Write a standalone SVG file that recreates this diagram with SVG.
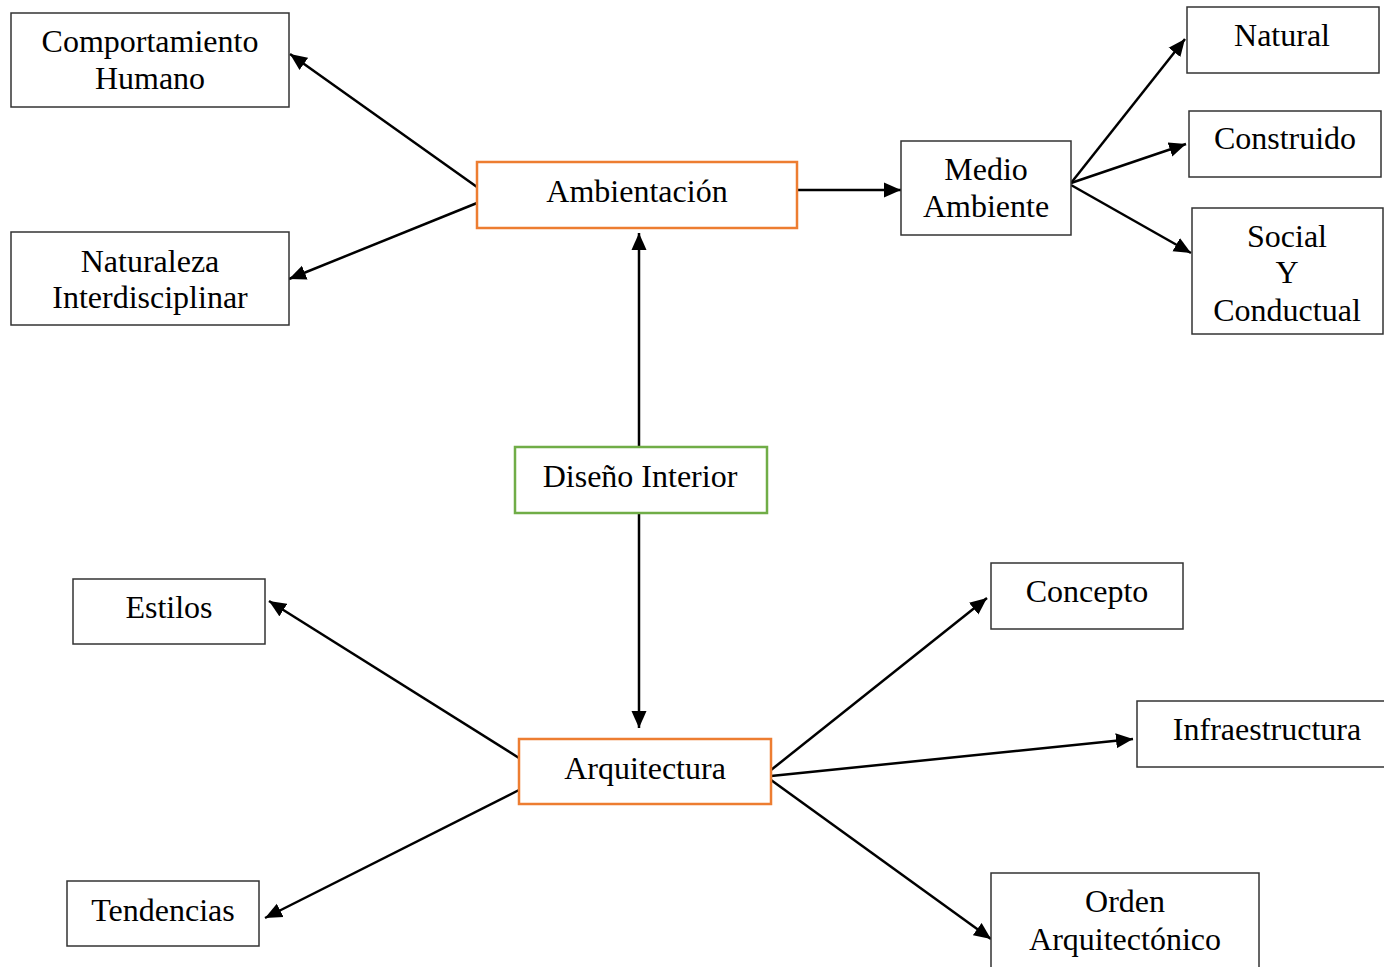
<svg xmlns="http://www.w3.org/2000/svg" width="1384" height="967" viewBox="0 0 1384 967">
<defs>
<marker id="ah" markerUnits="userSpaceOnUse" markerWidth="18" markerHeight="16" refX="17" refY="8" orient="auto">
<path d="M0,0.5 L17,8 L0,15.5 Z" fill="#000"/>
</marker>
<style>
.box{fill:#fff;stroke:#333;stroke-width:1.5}
.orange{fill:#fff;stroke:#ED7D31;stroke-width:2.5}
.green{fill:#fff;stroke:#70AD47;stroke-width:2.5}
text{font-family:"Liberation Serif","Times New Roman",serif;font-size:32px;fill:#000;text-anchor:middle}
.conn line{stroke:#000;stroke-width:2.5;marker-end:url(#ah)}
</style>
</defs>
<rect width="1384" height="967" fill="#fff"/>
<g class="conn" id="connectors">
<line x1="477" y1="187" x2="290" y2="54"/>
<line x1="477" y1="203" x2="289" y2="279"/>
<line x1="797" y1="190" x2="901" y2="190"/>
<line x1="639" y1="447" x2="639" y2="233"/>
<line x1="1071" y1="183" x2="1185" y2="39"/>
<line x1="1071" y1="183" x2="1186" y2="144"/>
<line x1="1071" y1="185" x2="1191" y2="253"/>
<line x1="639" y1="513" x2="639" y2="728"/>
<line x1="519" y1="758" x2="269" y2="601"/>
<line x1="519" y1="790" x2="265" y2="918"/>
<line x1="771" y1="770" x2="987" y2="598"/>
<line x1="771" y1="776" x2="1133" y2="739"/>
<line x1="771" y1="780" x2="991" y2="939"/>
</g>
<g id="comportamiento"><rect class="box" x="11" y="13" width="278" height="94"/><text x="150" y="52">Comportamiento</text><text x="150" y="89">Humano</text></g>
<g id="naturaleza"><rect class="box" x="11" y="232" width="278" height="93"/><text x="150" y="272">Naturaleza</text><text x="150" y="308">Interdisciplinar</text></g>
<g id="ambientacion"><rect class="orange" x="477" y="162" width="320" height="66"/><text x="637" y="202">Ambientación</text></g>
<g id="medio"><rect class="box" x="901" y="141" width="170" height="94"/><text x="986" y="180">Medio</text><text x="986" y="217">Ambiente</text></g>
<g id="natural"><rect class="box" x="1187" y="7" width="192" height="66"/><text x="1282" y="46">Natural</text></g>
<g id="construido"><rect class="box" x="1189" y="111" width="192" height="66"/><text x="1285" y="149">Construido</text></g>
<g id="social"><rect class="box" x="1192" y="208" width="191" height="126"/><text x="1287" y="247">Social</text><text x="1287" y="283">Y</text><text x="1287" y="321">Conductual</text></g>
<g id="diseno"><rect class="green" x="515" y="447" width="252" height="66"/><text x="640" y="487">Diseño Interior</text></g>
<g id="estilos"><rect class="box" x="73" y="579" width="192" height="65"/><text x="169" y="618">Estilos</text></g>
<g id="tendencias"><rect class="box" x="67" y="881" width="192" height="65"/><text x="163" y="921">Tendencias</text></g>
<g id="arquitectura"><rect class="orange" x="519" y="739" width="252" height="65"/><text x="645" y="779">Arquitectura</text></g>
<g id="concepto"><rect class="box" x="991" y="563" width="192" height="66"/><text x="1087" y="602">Concepto</text></g>
<g id="infraestructura"><rect class="box" x="1137" y="701" width="260" height="66"/><text x="1267" y="740">Infraestructura</text></g>
<g id="orden"><rect class="box" x="991" y="873" width="268" height="110"/><text x="1125" y="912">Orden</text><text x="1125" y="950">Arquitectónico</text></g>
</svg>
